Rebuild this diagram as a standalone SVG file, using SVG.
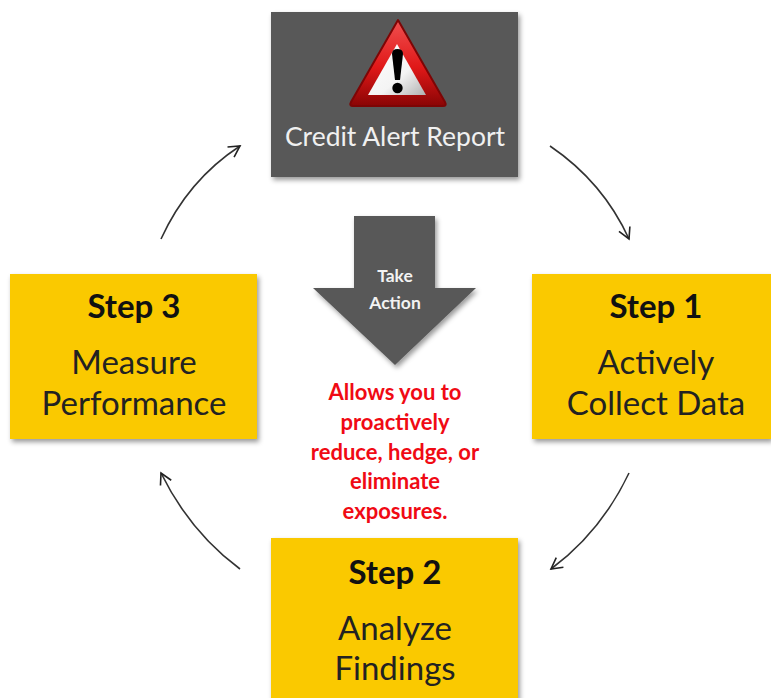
<svg xmlns="http://www.w3.org/2000/svg" width="771" height="698" viewBox="0 0 771 698">
<style>
text{font-family:Lato,"Open Sans","Liberation Sans",sans-serif;text-anchor:middle}
.box{fill:#fac900;filter:url(#sh)}
.dark{fill:#595959;filter:url(#sh)}
.h{font-size:33px;font-weight:700;fill:#111}
.b{font-size:33px;fill:#222}
.w{font-size:17.500px;font-weight:700;fill:#f2f2f2}
.r{font-size:22px;font-weight:700;fill:#f00a14}
.c{fill:none;stroke:#333;stroke-width:1.6;marker-end:url(#ah)}
</style>
<defs>
<filter id="sh" x="-10%" y="-10%" width="125%" height="125%"><feDropShadow dx="2" dy="3" stdDeviation="2.5" flood-color="#000" flood-opacity=".4"/></filter>
<marker id="ah" viewBox="0 0 14 14" refX="12" refY="7" markerWidth="14" markerHeight="14" markerUnits="userSpaceOnUse" orient="auto"><path d="M1 1L12 7L1 13" fill="none" stroke="#222" stroke-width="1.6"/></marker>
<linearGradient id="red" x1="0" y1="0" x2="0" y2="1"><stop offset="0" stop-color="#f05050"/><stop offset=".55" stop-color="#e01818"/><stop offset="1" stop-color="#8a0505"/></linearGradient>
<linearGradient id="wh" x1="0" y1="0" x2="1" y2="1"><stop offset="0" stop-color="#fff"/><stop offset=".6" stop-color="#f4f4f4"/><stop offset="1" stop-color="#b0b0b0"/></linearGradient>
</defs>
<g id="connectors">
<path class="c" d="M550 146Q603 182 629 239"/>
<path class="c" d="M629 473Q601 532 551 569"/>
<path class="c" d="M240 569Q190 532 161 473"/>
<path class="c" d="M161 239Q188 180 240 146"/>
</g>
<g id="alert">
<rect class="dark" x="271" y="12" width="247" height="165"/>
<path d="M398 20L445 102Q447 106 443 106H353Q349 106 351 102Z" fill="url(#red)" stroke="#7d0505" stroke-width="2" stroke-linejoin="round"/>
<path d="M397 44L426 95H368Z" fill="url(#wh)"/>
<path d="M392 54Q392 49 397.500 49Q403 49 403 54L400 80H395Z" fill="#000"/>
<circle cx="397.500" cy="88" r="5.200" fill="#000"/>
<text x="395" y="146" font-size="26.500" fill="#f0f0f0">Credit Alert Report</text>
</g>
<g id="take-action">
<path class="dark" d="M354 216H435V288H476L395 365L313 288H354Z"/>
<text class="w" x="395" y="282">Take</text>
<text class="w" x="395" y="309">Action</text>
</g>
<g id="note">
<text class="r" x="395" y="400">Allows you to</text>
<text class="r" x="395" y="430">proactively</text>
<text class="r" x="395" y="460">reduce, hedge, or</text>
<text class="r" x="395" y="489">eliminate</text>
<text class="r" x="395" y="519">exposures.</text>
</g>
<g id="step1">
<rect class="box" x="532" y="274" width="239" height="165"/>
<text class="h" x="656" y="318">Step 1</text>
<text class="b" x="656" y="374">Actively</text>
<text class="b" x="656" y="415">Collect Data</text>
</g>
<g id="step2">
<rect class="box" x="271" y="538" width="247" height="165"/>
<text class="h" x="395" y="584">Step 2</text>
<text class="b" x="395" y="640">Analyze</text>
<text class="b" x="395" y="680">Findings</text>
</g>
<g id="step3">
<rect class="box" x="10" y="274" width="247" height="165"/>
<text class="h" x="134" y="318">Step 3</text>
<text class="b" x="134" y="374">Measure</text>
<text class="b" x="134" y="415">Performance</text>
</g>
</svg>
